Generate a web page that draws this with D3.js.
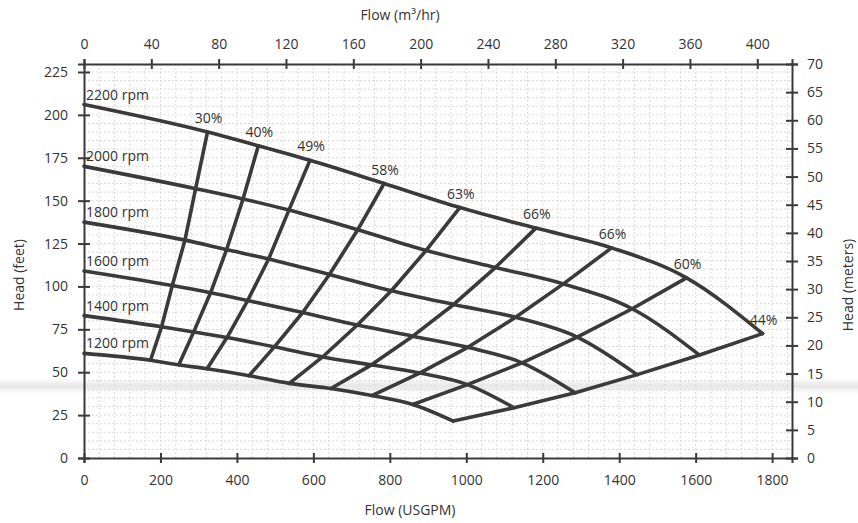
<!DOCTYPE html>
<html>
<head>
<meta charset="utf-8">
<script src="https://cdn.jsdelivr.net/npm/d3@7"></script>
<style>
  html, body { margin: 0; padding: 0; background: #fff; }
  svg { display: block; }
  text { font-family: "Open Sans", "Lato", sans-serif; fill: #333; }
</style>
</head>
<body>
<svg id="chart" width="858" height="523"></svg>
<script>
// ---------- data ----------
const speeds = [2200, 2000, 1800, 1600, 1400, 1200];
const speedLabels = ["2200 rpm", "2000 rpm", "1800 rpm", "1600 rpm", "1400 rpm", "1200 rpm"];
const shutoffHead = [206, 170, 137.5, 109, 83, 61];           // ft at 0 USGPM
const effLabels = ["30%", "40%", "49%", "58%", "63%", "66%", "66%", "60%", "44%"];

// flow (USGPM) and head (ft) where each speed curve meets each efficiency line
const flow2200 = [323, 456, 591, 785, 983, 1182, 1380, 1576, 1775];
const head2200 = [190, 182, 173.5, 160, 146, 134, 122.5, 105, 72.5];
const flow2000 = [292, 416, 536, 716, 895, 1076, 1254, 1434, 1610];
const head2000 = [157, 151, 144.5, 133, 121, 111, 101.5, 87, 60];
const flow1800 = [264, 373, 483, 642, 804, 967, 1129, 1290, 1447];
const head1800 = [127, 121.5, 116, 107, 97.5, 89.5, 82, 70.5, 48.6];
const flow1600 = [231, 331, 428, 572, 715, 860, 1004, 1146, 1285];
const head1600 = [100.5, 96.3, 91.8, 84.8, 77.5, 71, 64.5, 55.5, 38];
const flow1400 = [203, 287, 374, 498, 624, 752, 878, 1003, 1125];
const head1400 = [76.5, 73.5, 70.2, 64.8, 58.9, 54.3, 49.5, 42.8, 29.3];
const flow1200 = [174, 248, 322, 432, 537, 646, 753, 860, 966];
const head1200 = [57, 54.3, 52, 48, 43.5, 40.5, 36.4, 31.2, 21.5];

const flowTicks = [0, 200, 400, 600, 800, 1000, 1200, 1400, 1600, 1800];   // USGPM
const m3Ticks = [0, 40, 80, 120, 160, 200, 240, 280, 320, 360, 400];       // m3/hr
const feetTicks = [0, 25, 50, 75, 100, 125, 150, 175, 200, 225];
const meterTicks = [0, 5, 10, 15, 20, 25, 30, 35, 40, 45, 50, 55, 60, 65, 70];

// ---------- helpers ----------
const flows = [flow2200, flow2000, flow1800, flow1600, flow1400, flow1200];
const heads = [head2200, head2000, head1800, head1600, head1400, head1200];
const GPM_PER_M3H = 4.4029;
const FT_PER_M = 3.28084;

const svg = d3.select("#chart");
const L = 84, R = 792, T = 64, B = 458;
const gpmMax = 1852;
const ftMax = 70 * FT_PER_M;

const x = d3.scaleLinear().domain([0, gpmMax]).range([L, R]);
const xTop = d3.scaleLinear().domain([0, gpmMax / GPM_PER_M3H]).range([L, R]);
const y = d3.scaleLinear().domain([0, ftMax]).range([B, T]);
const yM = d3.scaleLinear().domain([0, 70]).range([B, T]);

const ink = "#3a3a3a";

// scan band
const defs = svg.append("defs");
const grad = defs.append("linearGradient").attr("id", "band").attr("x1", 0).attr("y1", 0).attr("x2", 0).attr("y2", 1);
grad.append("stop").attr("offset", "0%").attr("stop-color", "#e8e8e8").attr("stop-opacity", 0);
grad.append("stop").attr("offset", "50%").attr("stop-color", "#e6e6e6").attr("stop-opacity", 1);
grad.append("stop").attr("offset", "100%").attr("stop-color", "#e8e8e8").attr("stop-opacity", 0);
svg.append("rect").attr("x", 0).attr("y", 378).attr("width", 858).attr("height", 16).attr("fill", "url(#band)");

// grid
const grid = svg.append("g").attr("stroke", "#dadada").attr("stroke-width", 1).attr("stroke-dasharray", "2,2");
grid.selectAll("line.v").data(d3.range(40, gpmMax, 40)).join("line")
  .attr("x1", d => x(d)).attr("x2", d => x(d)).attr("y1", T).attr("y2", B);
grid.selectAll("line.h").data(d3.range(5, ftMax, 5)).join("line")
  .attr("y1", d => y(d)).attr("y2", d => y(d)).attr("x1", L).attr("x2", R);

// axes
function styleAxis(g, horizontal) {
  g.select(".domain").attr("stroke", ink).attr("stroke-width", 2);
  g.selectAll(".tick line").attr("stroke", ink).attr("stroke-width", 2);
  if (horizontal) g.selectAll(".tick line").attr("y1", -5).attr("y2", 5);
  else g.selectAll(".tick line").attr("x1", -6).attr("x2", 6);
  g.selectAll(".tick text").attr("font-size", 14).attr("fill", "#333")
    .style("font-family", '"Open Sans", sans-serif');
}
const gB = svg.append("g").attr("transform", `translate(0,${B})`)
  .call(d3.axisBottom(x).tickValues(flowTicks).tickSizeOuter(0).tickSize(5).tickPadding(12).tickFormat(d3.format("d")));
styleAxis(gB, true);
const gT = svg.append("g").attr("transform", `translate(0,${T})`)
  .call(d3.axisTop(xTop).tickValues(m3Ticks).tickSizeOuter(0).tickSize(5).tickPadding(10).tickFormat(d3.format("d")));
styleAxis(gT, true);
const gL = svg.append("g").attr("transform", `translate(${L},0)`)
  .call(d3.axisLeft(y).tickValues(feetTicks).tickSizeOuter(0).tickSize(6).tickPadding(10).tickFormat(d3.format("d")));
styleAxis(gL, false);
const gR = svg.append("g").attr("transform", `translate(${R},0)`)
  .call(d3.axisRight(yM).tickValues(meterTicks).tickSizeOuter(0).tickSize(6).tickPadding(9).tickFormat(d3.format("d")));
styleAxis(gR, false);

// speed curves and efficiency lines
const speedLine = d3.line().x(d => x(d[0])).y(d => y(d[1])).curve(d3.curveMonotoneX);
const effLine = d3.line().x(d => x(d[0])).y(d => y(d[1])).curve(d3.curveLinear);
const curves = svg.append("g").attr("fill", "none").attr("stroke", ink).attr("stroke-width", 3.6)
  .attr("stroke-linejoin", "round").attr("stroke-linecap", "round");

speeds.forEach((s, i) => {
  const pts = [[0, shutoffHead[i]]].concat(flows[i].map((f, j) => [f, heads[i][j]]));
  curves.append("path").attr("d", speedLine(pts));
});
effLabels.forEach((lab, j) => {
  const pts = speeds.map((s, i) => [flows[i][j], heads[i][j]]);
  curves.append("path").attr("d", effLine(pts));
});

// speed labels
svg.append("g").selectAll("text").data(speeds).join("text")
  .attr("x", x(0) + 2)
  .attr("y", (d, i) => y(shutoffHead[i]) - 5)
  .attr("font-size", 14)
  .text((d, i) => speedLabels[i]);

// efficiency labels
svg.append("g").selectAll("text").data(effLabels).join("text")
  .attr("x", (d, j) => x(flow2200[j]) + 1)
  .attr("y", (d, j) => y(head2200[j]) - 9)
  .attr("text-anchor", "middle")
  .attr("font-size", 14)
  .text(d => d);

// axis titles
svg.append("text").attr("x", 400).attr("y", 20).attr("text-anchor", "middle")
  .attr("font-size", 14).text("Flow (m³/hr)");
svg.append("text").attr("x", 410).attr("y", 515).attr("text-anchor", "middle")
  .attr("font-size", 14).text("Flow (USGPM)");
svg.append("text").attr("transform", "translate(853,285) rotate(-90)").attr("text-anchor", "middle")
  .attr("font-size", 14).text("Head (meters)");
svg.append("text").attr("transform", "translate(24,275) rotate(-90)").attr("text-anchor", "middle")
  .attr("font-size", 14).text("Head (feet)");
</script>
</body>
</html>
